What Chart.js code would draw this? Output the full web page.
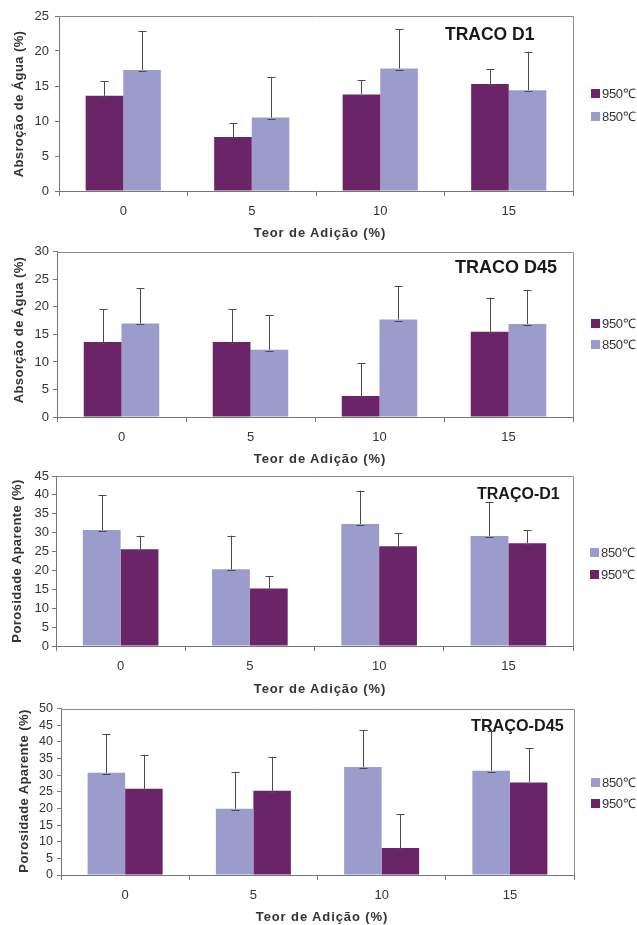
<!DOCTYPE html>
<html>
<head>
<meta charset="utf-8">
<script src="https://cdn.jsdelivr.net/npm/chart.js@4.4.1/dist/chart.umd.min.js"></script>
<style>
  html, body { margin: 0; padding: 0; background: #fff; }
  body { width: 637px; height: 925px; position: relative; overflow: hidden; font-family: 'Liberation Sans', Arial, sans-serif; }
  canvas { position: absolute; left: 0; }
  .t { position: absolute; white-space: nowrap; transform: translate(-50%, -50%); color: #333; }
  .ytitle { font-weight: bold; font-size: 13px; letter-spacing: 0.4px; transform: translate(-50%, -50%) rotate(-90deg); }
  .xtitle { font-weight: bold; font-size: 13px; letter-spacing: 0.9px; }
  .ptitle { font-weight: bold; color: #1a1a1a; transform: translate(0, -50%); }
  .leg { position: absolute; font-size: 13px; color: #333; white-space: nowrap; transform: translate(0, -50%); letter-spacing: -0.3px; }
  .leg i { display: inline-block; width: 9px; height: 9px; margin-right: 2px; vertical-align: 0px; }
</style>
</head>
<body>
<canvas id="c1" width="637" height="240" style="top:0px"></canvas>
<canvas id="c2" width="637" height="225" style="top:240px"></canvas>
<canvas id="c3" width="637" height="232" style="top:465px"></canvas>
<canvas id="c4" width="637" height="228" style="top:697px"></canvas>

<!-- Panel 1 texts -->
<div class="t ytitle" style="left:18px; top:104px;">Absroção de Água (%)</div>
<div class="t xtitle" style="left:320px; top:232px;">Teor de Adição (%)</div>
<div class="t ptitle" style="left:445px; top:34px; font-size:17.5px;">TRACO D1</div>
<div class="leg" style="left:591px; top:93px;"><i style="background:#6B2468"></i>950℃</div>
<div class="leg" style="left:591px; top:116px;"><i style="background:#9B9BCC"></i>850℃</div>

<!-- Panel 2 texts -->
<div class="t ytitle" style="left:18px; top:330px;">Absorção de Água (%)</div>
<div class="t xtitle" style="left:320px; top:458px;">Teor de Adição (%)</div>
<div class="t ptitle" style="left:455px; top:267px; font-size:18px;">TRACO D45</div>
<div class="leg" style="left:591px; top:322.5px;"><i style="background:#6B2468"></i>950℃</div>
<div class="leg" style="left:591px; top:344px;"><i style="background:#9B9BCC"></i>850℃</div>

<!-- Panel 3 texts -->
<div class="t ytitle" style="left:16px; top:561px;">Porosidade Aparente (%)</div>
<div class="t xtitle" style="left:320px; top:688px;">Teor de Adição (%)</div>
<div class="t ptitle" style="left:477px; top:494px; font-size:16px;">TRAÇO-D1</div>
<div class="leg" style="left:590px; top:551.5px;"><i style="background:#9B9BCC"></i>850℃</div>
<div class="leg" style="left:590px; top:573.5px;"><i style="background:#6B2468"></i>950℃</div>

<!-- Panel 4 texts -->
<div class="t ytitle" style="left:23px; top:791px;">Porosidade Aparente (%)</div>
<div class="t xtitle" style="left:322px; top:916px;">Teor de Adição (%)</div>
<div class="t ptitle" style="left:471px; top:725px; font-size:16.2px;">TRAÇO-D45</div>
<div class="leg" style="left:591px; top:782px;"><i style="background:#9B9BCC"></i>850℃</div>
<div class="leg" style="left:591px; top:803px;"><i style="background:#6B2468"></i>950℃</div>

<script>
// ---------- DATA ----------
const categories = ['0', '5', '10', '15'];

// Panel 1: Absorção de Água, TRACO D1
const absD1_950 = [13.6, 7.7, 13.8, 15.3];
const absD1_950_err = [2.1, 2.0, 2.0, 2.1];
const absD1_850 = [17.3, 10.5, 17.5, 14.4];
const absD1_850_err = [5.6, 5.8, 5.6, 5.5];
const absD1_yMax = 25;

// Panel 2: Absorção de Água, TRACO D45
const absD45_950 = [13.6, 13.6, 3.8, 15.5];
const absD45_950_err = [6.0, 6.0, 6.0, 6.2];
const absD45_850 = [17.0, 12.2, 17.7, 16.9];
const absD45_850_err = [6.4, 6.3, 6.1, 6.2];
const absD45_yMax = 30;

// Panel 3: Porosidade Aparente, TRAÇO-D1
const porD1_850 = [30.7, 20.3, 32.3, 29.1];
const porD1_850_err = [9.3, 8.9, 8.8, 9.1];
const porD1_950 = [25.6, 15.2, 26.4, 27.2];
const porD1_950_err = [3.6, 3.3, 3.4, 3.5];
const porD1_yMax = 45;

// Panel 4: Porosidade Aparente, TRAÇO-D45
const porD45_850 = [30.7, 19.9, 32.4, 31.3];
const porD45_850_err = [11.6, 11.1, 11.0, 11.9];
const porD45_950 = [25.9, 25.3, 8.1, 27.8];
const porD45_950_err = [10.2, 10.2, 10.2, 10.3];
const porD45_yMax = 50;

const yStep = 5;

// ---------- STYLE ----------
const COL_950 = '#6B2468';
const COL_850 = '#9B9BCC';
Chart.defaults.font.family = "'Liberation Sans', Arial, sans-serif";
Chart.defaults.color = '#333';

const errorBars = {
  id: 'errorBars',
  afterDatasetsDraw(chart) {
    const ctx = chart.ctx;
    const ys = chart.scales.y;
    ctx.save();
    ctx.strokeStyle = '#4a4a4a';
    ctx.lineWidth = 1;
    chart.data.datasets.forEach((ds, i) => {
      const meta = chart.getDatasetMeta(i);
      meta.data.forEach((bar, j) => {
        const e = ds.errors[j];
        const x = Math.round(bar.x) + 0.5;
        const y0 = ys.getPixelForValue(ds.data[j]);
        const y1 = ys.getPixelForValue(ds.data[j] + e);
        const cap = 4;
        ctx.beginPath();
        ctx.moveTo(x, y0); ctx.lineTo(x, y1);
        ctx.moveTo(x - cap, Math.round(y1) + 0.5); ctx.lineTo(x + cap, Math.round(y1) + 0.5);
        ctx.moveTo(x - cap, Math.round(y0) + 1.5); ctx.lineTo(x + cap, Math.round(y0) + 1.5);
        ctx.stroke();
      });
    });
    ctx.restore();
  }
};

const frame = {
  id: 'frame',
  afterDatasetsDraw(chart) {
    const {left, right, top, bottom} = chart.chartArea;
    const ctx = chart.ctx;
    ctx.save();
    ctx.strokeStyle = '#8c8c8c';
    ctx.lineWidth = 1;
    ctx.beginPath();
    ctx.moveTo(left, Math.round(top) + 0.5);
    ctx.lineTo(Math.round(right) + 0.5, Math.round(top) + 0.5);
    ctx.lineTo(Math.round(right) + 0.5, bottom);
    ctx.stroke();
    ctx.restore();
  }
};

function makeChart(id, geom, yMax, datasets) {
  const canvas = document.getElementById(id);
  const W = canvas.width, H = canvas.height;
  return new Chart(canvas, {
    type: 'bar',
    data: { labels: categories, datasets },
    options: {
      responsive: false,
      animation: false,
      events: [],
      layout: { padding: { left: 0, right: W - geom.right, top: geom.top, bottom: 0 } },
      plugins: { legend: { display: false }, tooltip: { enabled: false } },
      datasets: { bar: { categoryPercentage: 0.585, barPercentage: 1.0, borderWidth: 0 } },
      scales: {
        x: {
          type: 'category',
          grid: { offset: true, drawOnChartArea: false, tickLength: 5, color: '#777', tickWidth: 1 },
          border: { color: '#777', width: 1 },
          ticks: { padding: 8, font: { size: 13 }, color: '#333', maxRotation: 0 },
          afterFit(s) { s.height = H - geom.bottom; }
        },
        y: {
          min: 0, max: yMax,
          grid: { drawOnChartArea: false, tickLength: 4, color: '#777' },
          border: { color: '#777', width: 1 },
          ticks: { stepSize: yStep, autoSkip: false, padding: geom.ypad, font: { size: geom.yfont }, color: '#333' },
          afterFit(s) { s.width = geom.left; }
        }
      }
    },
    plugins: [frame, errorBars]
  });
}

function ds(label, data, errors, color) {
  return { label, data, errors, backgroundColor: color };
}

makeChart('c1', { left: 59, right: 573, top: 16, bottom: 191, ypad: 6, yfont: 13 }, absD1_yMax, [
  ds('950℃', absD1_950, absD1_950_err, COL_950),
  ds('850℃', absD1_850, absD1_850_err, COL_850)
]);
makeChart('c2', { left: 57, right: 573, top: 7, bottom: 177, ypad: 4, yfont: 13 }, absD45_yMax, [
  ds('950℃', absD45_950, absD45_950_err, COL_950),
  ds('850℃', absD45_850, absD45_850_err, COL_850)
]);
makeChart('c3', { left: 56, right: 573, top: 11, bottom: 181, ypad: 3, yfont: 13 }, porD1_yMax, [
  ds('850℃', porD1_850, porD1_850_err, COL_850),
  ds('950℃', porD1_950, porD1_950_err, COL_950)
]);
makeChart('c4', { left: 61, right: 574, top: 9, bottom: 178, ypad: 4, yfont: 12.5 }, porD45_yMax, [
  ds('850℃', porD45_850, porD45_850_err, COL_850),
  ds('950℃', porD45_950, porD45_950_err, COL_950)
]);
</script>
</body>
</html>
